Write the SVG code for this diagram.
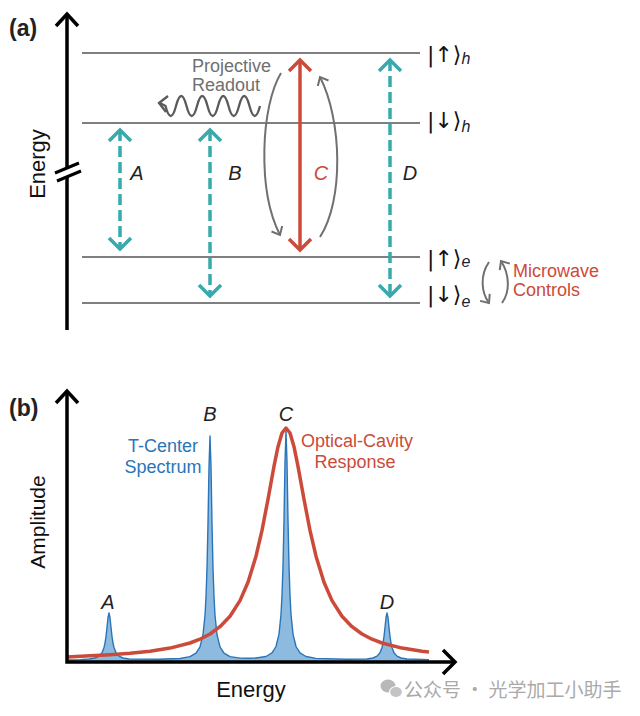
<svg xmlns="http://www.w3.org/2000/svg" width="640" height="716" viewBox="0 0 640 716">
<defs>
<style>
text{font-family:"Liberation Sans",Arial,"DejaVu Sans",sans-serif}
.panel{font-size:23px;font-weight:bold;fill:#222}
.axis{fill:none;stroke:#000;stroke-width:3.5}
.level{stroke:#555;stroke-width:1.6}
.ket{font-family:"DejaVu Sans",sans-serif;font-size:22px;fill:#111}
.sub{font-family:"Liberation Sans",Arial,sans-serif;font-style:italic;font-size:16px;fill:#1b1b30}
.lab{font-size:20px;font-style:italic;fill:#222;text-anchor:middle}
.teal{fill:none;stroke:#3aa9ad;stroke-width:3.5;stroke-dasharray:11 5}
.gray{fill:none;stroke:#707070;stroke-width:2}
.axlab{font-size:22px;fill:#111;text-anchor:middle}
</style>
<marker id="hT" viewBox="-16 -14 20 28" markerWidth="20" markerHeight="28" refX="0" refY="0" orient="auto-start-reverse" markerUnits="userSpaceOnUse"><path d="M-11,-11 L0,0 L-11,11" fill="none" stroke="#3aa9ad" stroke-width="3.5"/></marker>
<marker id="hR" viewBox="-16 -14 20 28" markerWidth="20" markerHeight="28" refX="0" refY="0" orient="auto-start-reverse" markerUnits="userSpaceOnUse"><path d="M-11,-11 L0,0 L-11,11" fill="none" stroke="#cc4a3a" stroke-width="3.5"/></marker>
<marker id="hG" viewBox="-10 -9 13 18" markerWidth="13" markerHeight="18" refX="0" refY="0" orient="auto" markerUnits="userSpaceOnUse"><path d="M-7,-6 L0,0 L-7,6" fill="none" stroke="#707070" stroke-width="2"/></marker>
</defs>

<!-- Panel (a) -->
<text class="panel" x="9" y="36">(a)</text>
<g id="axis-a">
<path class="axis" d="M67,15 V168 M67,176 V330"/>
<path class="axis" d="M56,26 L67,14 L78,26"/>
<path d="M55,173 L79,163 M57,181 L81,171" stroke="#000" stroke-width="3" fill="none"/>
<text class="axlab" transform="translate(45,164) rotate(-90)">Energy</text>
</g>

<g id="levels">
<line class="level" x1="82" y1="53" x2="420" y2="53"/>
<line class="level" x1="82" y1="123" x2="420" y2="123"/>
<line class="level" x1="82" y1="257" x2="420" y2="257"/>
<line class="level" x1="82" y1="303" x2="420" y2="303" stroke="#333"/>
</g>
<g id="kets">
<text class="ket" x="427" y="62">|↑⟩<tspan class="sub" dy="2">h</tspan></text>
<text class="ket" x="427" y="128">|↓⟩<tspan class="sub" dy="4">h</tspan></text>
<text class="ket" x="427" y="266">|↑⟩<tspan class="sub" dy="1">e</tspan></text>
<text class="ket" x="427" y="302">|↓⟩<tspan class="sub" dy="5">e</tspan></text>
</g>

<g id="connectors-a">
<line class="teal" x1="120" y1="130" x2="120" y2="249" marker-start="url(#hT)" marker-end="url(#hT)"/>
<line class="teal" x1="210" y1="130" x2="210" y2="296" marker-start="url(#hT)" marker-end="url(#hT)"/>
<line class="teal" x1="390" y1="60" x2="390" y2="296" marker-start="url(#hT)" marker-end="url(#hT)"/>
<line x1="300" y1="60" x2="300" y2="250" stroke="#cc4a3a" stroke-width="3.5" marker-start="url(#hR)" marker-end="url(#hR)"/>
<path class="gray" d="M281,73 C261,106 257,190 280,235" marker-end="url(#hG)"/>
<path class="gray" d="M320,237 C344,200 342,120 320,77" marker-end="url(#hG)"/>
<path class="gray" style="stroke:#5a5a5a;stroke-width:2.3" d="M260,106 q-5.25,20 -10.5,0 t-10.5,0 t-10.5,0 t-10.5,0 t-10.5,0 t-10.5,0 t-10.5,0 t-10.5,0 t-10.5,0 L160,103"/>
<path class="gray" style="stroke:#5a5a5a;stroke-width:2.3" d="M168,96 L159,103 L166,112"/>
<path class="gray" d="M489,262 C480,275 481,292 489,303" marker-end="url(#hG)"/>
<path class="gray" d="M502,303 C510,292 510,275 501,261" marker-end="url(#hG)"/>
</g>

<g id="labels-a">
<text class="lab" x="137" y="180">A</text>
<text class="lab" x="235" y="180">B</text>
<text class="lab" x="321" y="180" style="fill:#cc4a3a">C</text>
<text class="lab" x="410" y="180">D</text>
<text x="192" y="72" font-size="18" fill="#707070">Projective</text>
<text x="192" y="91" font-size="18" fill="#707070">Readout</text>
<text x="513" y="277" font-size="18" fill="#cc4a3a">Microwave</text>
<text x="513" y="296" font-size="18" fill="#cc4a3a">Controls</text>
</g>

<!-- Panel (b) -->
<text class="panel" x="9" y="416">(b)</text>
<g id="spectrum">
<path fill="#8dbbe0" stroke="none" d="M67,660 L80,659.6 L89,659 L95,658 L99,656.1 L102,652.7 L104,647.5 L105,643.1 L106,636.5 L107,627.5 L108,617.7 L109,613 L110,617.7 L111,627.5 L112,636.5 L113,643.1 L114,647.5 L116,652.7 L119,656.1 L123,658 L129,659 L158,659.2 L180,658.5 L190,656.6 L196,653.1 L200,646.8 L203,634.7 L205,615.2 L206,597.1 L207,568.2 L208,523.4 L209,466.9 L210,436 L211,466.9 L212,523.4 L213,568.2 L214,597.1 L215,615.2 L217,634.7 L220,646.8 L224,653.1 L230,656.6 L240,658.1 L248,658.3 L256,658 L266,656.5 L272,652.9 L276,646.5 L279,634.1 L281,614.2 L282,595.6 L283,566.1 L284,520.3 L285,462.6 L286,431 L287,462.6 L288,520.3 L289,566.1 L290,595.6 L291,614.2 L293,634.1 L296,646.5 L300,652.9 L306,656.5 L316,658.4 L346,659.3 L367,659 L373,658 L377,656.1 L380,652.7 L382,647.5 L383,643.1 L384,636.5 L385,627.5 L386,617.7 L387,613 L388,617.7 L389,627.5 L390,636.5 L391,643.1 L392,647.5 L394,652.7 L397,656.1 L401,658 L407,659 L429,659.6 L429,662 L67,662 Z"/>
<path fill="none" stroke="#2b74b8" stroke-width="1.4" stroke-linejoin="round" d="M67,660 L80,659.6 L89,659 L95,658 L99,656.1 L102,652.7 L104,647.5 L105,643.1 L106,636.5 L107,627.5 L108,617.7 L109,613 L110,617.7 L111,627.5 L112,636.5 L113,643.1 L114,647.5 L116,652.7 L119,656.1 L123,658 L129,659 L158,659.2 L180,658.5 L190,656.6 L196,653.1 L200,646.8 L203,634.7 L205,615.2 L206,597.1 L207,568.2 L208,523.4 L209,466.9 L210,436 L211,466.9 L212,523.4 L213,568.2 L214,597.1 L215,615.2 L217,634.7 L220,646.8 L224,653.1 L230,656.6 L240,658.1 L248,658.3 L256,658 L266,656.5 L272,652.9 L276,646.5 L279,634.1 L281,614.2 L282,595.6 L283,566.1 L284,520.3 L285,462.6 L286,431 L287,462.6 L288,520.3 L289,566.1 L290,595.6 L291,614.2 L293,634.1 L296,646.5 L300,652.9 L306,656.5 L316,658.4 L346,659.3 L367,659 L373,658 L377,656.1 L380,652.7 L382,647.5 L383,643.1 L384,636.5 L385,627.5 L386,617.7 L387,613 L388,617.7 L389,627.5 L390,636.5 L391,643.1 L392,647.5 L394,652.7 L397,656.1 L401,658 L407,659 L429,659.6"/>
</g>
<g id="cavity">
<polyline fill="none" stroke="#cc4a3a" stroke-width="3.5" stroke-linejoin="round" points="67,657 90,655.7 110,654.7 130,653.3 150,651.2 170,648.1 190,643 200,639.2 210,634 220,626.7 230,616.2 240,600.6 248,582.2 256,556.2 262,530.4 268,499.3 274,466.3 278,446.7 282,433 286,428 290,433 294,446.7 298,466.3 304,499.3 310,530.4 316,556.2 324,582.2 332,600.6 342,616.2 352,626.7 362,634 372,639.2 382,643 402,648.1 422,651.2 429,651.9"/>
</g>
<g id="axis-b">
<path class="axis" d="M67,392 V662 H454"/>
<path class="axis" d="M56,403 L67,391 L78,403"/>
<path class="axis" d="M443,650 L455,662 L443,674"/>
<text class="axlab" transform="translate(45,522) rotate(-90)" style="font-size:21px">Amplitude</text>
<text class="axlab" x="251" y="697">Energy</text>
</g>
<g id="labels-b">
<text class="lab" x="108" y="609">A</text>
<text class="lab" x="210" y="421">B</text>
<text class="lab" x="286" y="421">C</text>
<text class="lab" x="387" y="609">D</text>
<text x="163" y="452" font-size="18" fill="#2b74b8" text-anchor="middle">T-Center</text>
<text x="163" y="473" font-size="18" fill="#2b74b8" text-anchor="middle">Spectrum</text>
<text x="357" y="447" font-size="18" fill="#cc4a3a" text-anchor="middle">Optical-Cavity</text>
<text x="355" y="468" font-size="18" fill="#cc4a3a" text-anchor="middle">Response</text>
</g>
<g id="watermark">
<ellipse cx="388" cy="686" rx="7.5" ry="6.5" fill="#b8b8b8"/>
<ellipse cx="396" cy="692" rx="6.5" ry="5.5" fill="#c4c4c4" stroke="#fff" stroke-width="1.2"/>
<text x="404" y="697" font-size="19" fill="#aaaaaa" style="font-family:'Noto Sans CJK SC',sans-serif">公众号 · 光学加工小助手</text>
</g>
</svg>
